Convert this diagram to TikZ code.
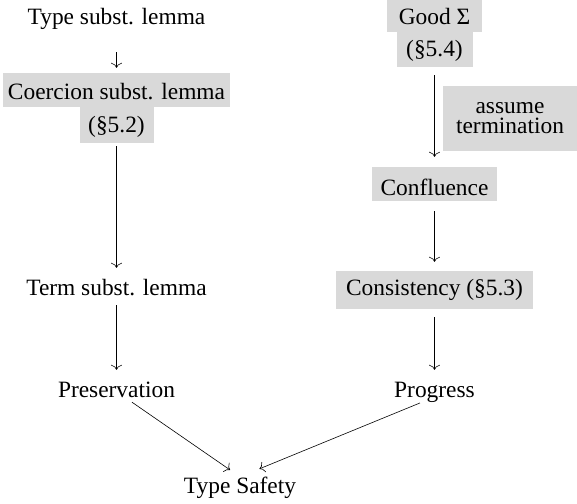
\documentclass[tikz,border=0pt]{standalone}
\usepackage{fontspec}
\setmainfont{Liberation Serif}
\usetikzlibrary{arrows.meta}
\begin{document}
\begin{tikzpicture}[x=1pt,y=-1pt,
  every node/.style={font=\fontsize{23.4}{18}\selectfont, inner sep=0pt},
  plain/.style={text height=16pt, text depth=5pt, anchor=base},
  gbox/.style={fill=gray!30, anchor=base, inner sep=0pt},
  arr/.style={draw=black, line width=0.6pt, -{Computer Modern Rightarrow[length=5pt,width=11pt]}}
]
\useasboundingbox (0,0) rectangle (577,503);
% left column
\node[plain] (tsl) at (116.5,25) {Type subst. lemma};
\node[gbox, minimum width=227pt, text height=26pt, text depth=8pt] (csl) at (116.5,99) {Coercion subst. lemma};
\node[gbox, minimum width=74pt, text height=25.7pt, text depth=10.3pt] (s52) at (116.5,132.7) {(§5.2)};
\node[plain] (tml) at (116.5,295) {Term subst. lemma};
\node[plain] (pres) at (116.5,397) {Preservation};
% right column
\node[gbox, minimum width=95pt, text height=24.5pt, text depth=7.5pt] (good) at (434.5,24.5) {Good Σ};
\node[gbox, minimum width=76pt, text height=24.7pt, text depth=10.3pt] (s54) at (434.5,56.7) {(§5.4)};
\node[gbox, minimum width=134pt, minimum height=65pt, align=center, anchor=center,
      font=\fontsize{23.4}{20}\selectfont] (term) at (510,118) {assume\\termination};
\node[gbox, minimum width=125pt, text height=28pt, text depth=6pt] (conf) at (434.5,195) {Confluence};
\node[gbox, minimum width=197pt, text height=24pt, text depth=14pt] (cons) at (434.5,295) {Consistency (§5.3)};
\node[plain] (prog) at (434.5,397) {Progress};
% bottom
\node[plain] (ts) at (240,493) {Type Safety};
% arrows
\draw[arr, shorten <=22pt, shorten >=5pt] (tsl.south) -- (csl.north);
\draw[arr, shorten <=3pt, shorten >=11pt] (s52.south) -- (tml.north);
\draw[arr, shorten <=5pt, shorten >=11pt] (tml.south) -- (pres.north);
\draw[arr, shorten <=8pt, shorten >=10pt] (s54.south) -- (conf.north);
\draw[arr, shorten <=10pt, shorten >=9pt] (conf.south) -- (cons.north);
\draw[arr, shorten <=8pt, shorten >=11pt] (cons.south) -- (prog.north);
\draw[arr, shorten >=12pt] (pres) -- (ts.north);
\draw[arr, shorten <=15.7pt, shorten >=21pt] (prog.base) -- (ts.north);
\end{tikzpicture}
\end{document}
